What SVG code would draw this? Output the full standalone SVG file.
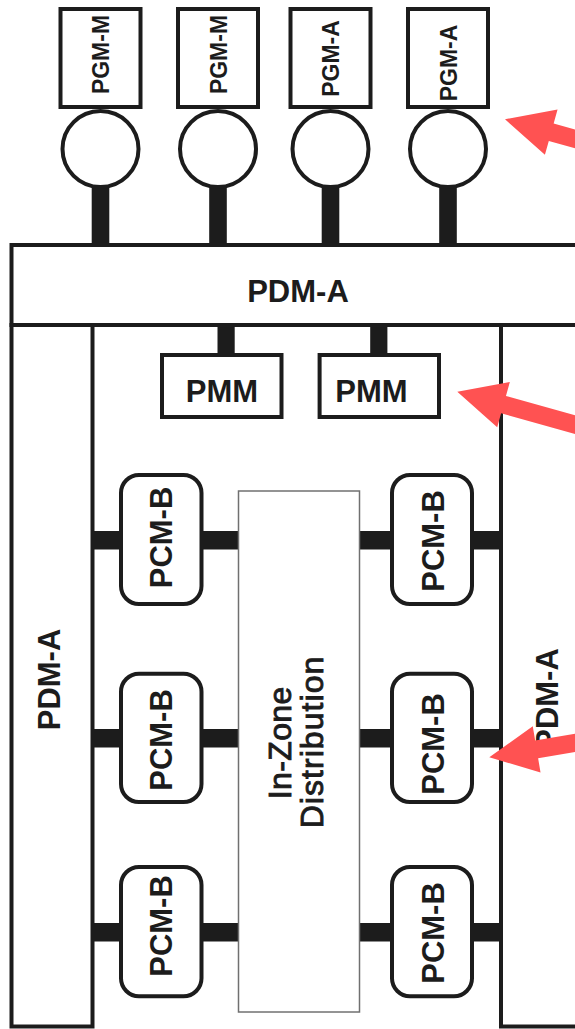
<svg xmlns="http://www.w3.org/2000/svg" width="575" height="1029" viewBox="0 0 575 1029">
<style>
.ln{fill:none;stroke:#1c1c1c;stroke-width:4}
.box{fill:#fff;stroke:#1c1c1c;stroke-width:4}
.bar{fill:#1c1c1c}
.b{font-family:"Liberation Sans",Arial,Helvetica,sans-serif;font-weight:bold;fill:#1c1c1c;text-anchor:middle}
.r{font-family:"Liberation Sans",Arial,Helvetica,sans-serif;fill:#1c1c1c;stroke:#1c1c1c;stroke-width:0.9;text-anchor:middle}
.arrow{fill:#ff5252}
</style>
<rect width="575" height="1029" fill="#fff"/>
<defs>
<polygon id="arr" points="0,0 48,-23.5 48,-9 170,-9 170,9 48,9 48,23.5"/>
</defs>

<g id="connectors">
<rect class="bar" x="91.7" y="187" width="17.6" height="60"/>
<rect class="bar" x="209.2" y="187" width="17.6" height="60"/>
<rect class="bar" x="321.7" y="187" width="17.6" height="60"/>
<rect class="bar" x="439.2" y="187" width="17.6" height="60"/>
<rect class="bar" x="217.5" y="323" width="17.2" height="32"/>
<rect class="bar" x="370.2" y="323" width="17.2" height="32"/>
<rect class="bar" x="92" y="531" width="28" height="18.5"/>
<rect class="bar" x="202" y="531" width="37" height="18.5"/>
<rect class="bar" x="359" y="531" width="34" height="18.5"/>
<rect class="bar" x="471" y="531" width="30" height="18.5"/>
<rect class="bar" x="92" y="729" width="28" height="18.5"/>
<rect class="bar" x="202" y="729" width="37" height="18.5"/>
<rect class="bar" x="359" y="729" width="34" height="18.5"/>
<rect class="bar" x="471" y="729" width="30" height="18.5"/>
<rect class="bar" x="92" y="923" width="28" height="18.5"/>
<rect class="bar" x="202" y="923" width="37" height="18.5"/>
<rect class="bar" x="359" y="923" width="34" height="18.5"/>
<rect class="bar" x="471" y="923" width="30" height="18.5"/>
</g>

<g id="pdm-a-top">
<rect class="box" x="11.5" y="245" width="600" height="80"/>
<text class="b" x="298" y="302" font-size="31">PDM-A</text>
</g>
<g id="pdm-a-left">
<rect class="ln" x="11.5" y="325" width="81" height="701.5"/>
<text class="b" font-size="31" transform="translate(60,679.5) rotate(-90)">PDM-A</text>
</g>
<g id="pdm-a-right">
<rect class="ln" x="501" y="325" width="100" height="701.5"/>
<text class="b" font-size="31" transform="translate(558,699) rotate(-90)">PDM-A</text>
</g>

<g id="pgm-1">
<rect class="box" x="60.5" y="9" width="80" height="98"/>
<circle class="box" cx="100.5" cy="149" r="38"/>
<text class="b" font-size="23" transform="translate(109,54.5) rotate(-90)">PGM-M</text>
</g>
<g id="pgm-2">
<rect class="box" x="178" y="9" width="80" height="98"/>
<circle class="box" cx="218" cy="149" r="38"/>
<text class="b" font-size="23" transform="translate(226.5,54.5) rotate(-90)">PGM-M</text>
</g>
<g id="pgm-3">
<rect class="box" x="290.5" y="9" width="80" height="98"/>
<circle class="box" cx="330.5" cy="149" r="38"/>
<text class="b" font-size="23" transform="translate(339,58.5) rotate(-90)">PGM-A</text>
</g>
<g id="pgm-4">
<rect class="box" x="408" y="9" width="80" height="98"/>
<circle class="box" cx="448" cy="149" r="38"/>
<text class="b" font-size="23" transform="translate(456.5,63) rotate(-90)">PGM-A</text>
</g>

<g id="pmm-1">
<rect class="box" x="162" y="355" width="119.5" height="62"/>
<text class="b" x="222" y="402.3" font-size="31">PMM</text>
</g>
<g id="pmm-2">
<rect class="box" x="319.6" y="355" width="119.4" height="62"/>
<text class="b" x="371.5" y="402.3" font-size="31">PMM</text>
</g>

<g id="in-zone">
<rect x="238.5" y="491" width="121" height="521" fill="#fff" stroke="#707070" stroke-width="1.5"/>
<text class="r" font-size="32" transform="translate(290.7,743) rotate(-90)" textLength="112.7" lengthAdjust="spacing">In-Zone</text>
<text class="r" font-size="32" transform="translate(323.3,742.5) rotate(-90)" textLength="171.7" lengthAdjust="spacing">Distribution</text>
</g>

<g id="pcm-b-1">
<rect class="box" x="121" y="475" width="80.5" height="129" rx="18"/>
<text class="b" font-size="31" transform="translate(172.3,537.5) rotate(-90)">PCM-B</text>
</g>
<g id="pcm-b-2">
<rect class="box" x="392" y="475" width="80" height="129" rx="18"/>
<text class="b" font-size="31" transform="translate(443.5,541) rotate(-90)">PCM-B</text>
</g>
<g id="pcm-b-3">
<rect class="box" x="121" y="673.7" width="80.5" height="128.3" rx="18"/>
<text class="b" font-size="31" transform="translate(172.3,740) rotate(-90)">PCM-B</text>
</g>
<g id="pcm-b-4">
<rect class="box" x="392" y="673.7" width="80" height="128.3" rx="18"/>
<text class="b" font-size="31" transform="translate(443.5,744) rotate(-90)">PCM-B</text>
</g>
<g id="pcm-b-5">
<rect class="box" x="121" y="867" width="80.5" height="129.3" rx="18"/>
<text class="b" font-size="31" transform="translate(172.3,926) rotate(-90)">PCM-B</text>
</g>
<g id="pcm-b-6">
<rect class="box" x="392" y="867" width="80" height="129.3" rx="18"/>
<text class="b" font-size="31" transform="translate(443.5,933) rotate(-90)">PCM-B</text>
</g>

<g id="arrows">
<use href="#arr" class="arrow" transform="translate(505,119.3) rotate(15.6)"/>
<use href="#arr" class="arrow" transform="translate(457.3,391.7) rotate(15.6)"/>
<use href="#arr" class="arrow" transform="translate(489.3,757.3) rotate(-9.5)"/>
</g>
</svg>
